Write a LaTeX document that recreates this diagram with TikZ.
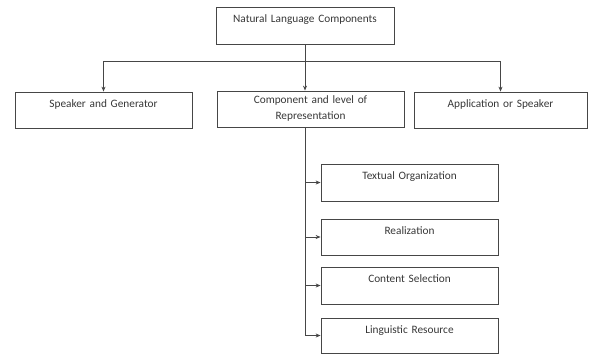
\documentclass[tikz,border=0pt]{standalone}
\usepackage{fontspec}
\setmainfont{Carlito}
\usetikzlibrary{arrows.meta}
\tikzstyle{pagePixels} = [x = 1pt, y = -1pt]
\definecolor{lineColor}{RGB}{70,70,70}
\definecolor{textColor}{RGB}{55,55,55}
\tikzstyle{boxStyle} = [draw=lineColor, thick, inner sep=0pt, align=center, font=\fontsize{11.3}{16}\selectfont, text=textColor]
\tikzstyle{linkStyle} = [draw=lineColor, thick, -{Stealth[length=5pt, width=4pt]}]
\tikzset{boxSize/.style n args={3}{text width=#1pt, minimum width=#1pt, text height=#2pt, text depth=#3pt}}

\begin{document}
\begin{tikzpicture}[pagePixels]
  \useasboundingbox (0,0) rectangle (592,354);

  % top level
  \node [boxStyle, boxSize={178}{15}{22}] (natural) at (305,25.5) {Natural Language Components};

  % second level
  \node [boxStyle, boxSize={177}{15}{21}] (speaker) at (103.5,110) {Speaker and Generator};
  \node [boxStyle, boxSize={187}{12}{24}] (component) at (310.5,109) {Component and level of\\Representation};
  \node [boxStyle, boxSize={173}{15}{21}] (application) at (500.5,110) {Application or Speaker};

  % third level
  \node [boxStyle, boxSize={177}{15}{22}] (textual) at (409.5,182.5) {Textual Organization};
  \node [boxStyle, boxSize={177}{15}{21}] (realization) at (409.5,237) {Realization};
  \node [boxStyle, boxSize={177}{15}{22}] (content) at (409.5,285.5) {Content Selection};
  \node [boxStyle, boxSize={177}{15}{20}] (linguistic) at (409.5,335.5) {Linguistic Resource};

  \coordinate (bus) at (305,61);
  \coordinate (trunk) at (component.south -| bus);

  \draw [draw=lineColor, thick] (natural.south) -- (bus);
  \draw [linkStyle] (bus) -| (speaker.north);
  \draw [linkStyle] (bus) -- (bus |- component.north);
  \draw [linkStyle] (bus) -| (application.north);

  \draw [linkStyle] (trunk) |- (linguistic.west);
  \foreach \sub in {textual, realization, content}
    \draw [linkStyle] (trunk |- \sub.west) -- (\sub.west);
\end{tikzpicture}
\end{document}
